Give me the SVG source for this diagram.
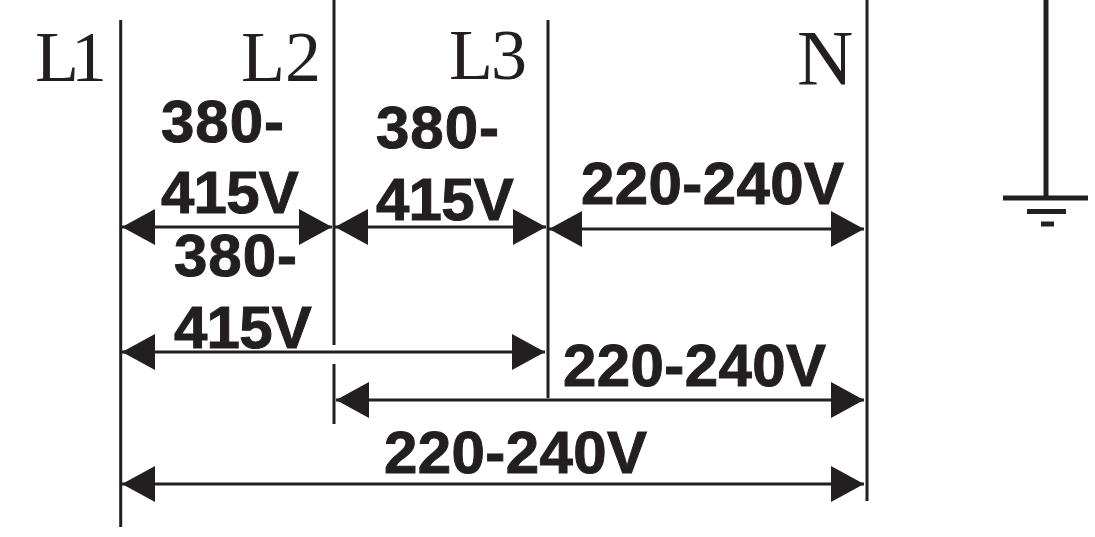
<svg xmlns="http://www.w3.org/2000/svg" width="1095" height="537" viewBox="0 0 1095 537">
<style>
.w{stroke:#231f20;stroke-width:3;fill:none}
.g{stroke:#231f20;fill:none;stroke-width:5}
.d{stroke:#231f20;stroke-width:3;fill:none;marker-start:url(#a);marker-end:url(#a)}
.p{font-family:"Liberation Serif",serif;font-size:72px;fill:#231f20}
.n{font-size:78px}
.v{font-family:"Liberation Sans",sans-serif;font-weight:700;font-size:60px;letter-spacing:.4px;fill:#231f20;stroke:#231f20;stroke-width:1}
.s{letter-spacing:-.8px}
.t{letter-spacing:1px}
</style>
<defs><marker id="a" markerUnits="userSpaceOnUse" markerWidth="34" markerHeight="36" refX="33" refY="18" orient="auto-start-reverse"><path d="M0 0L33 18L0 36Z" fill="#231f20"/></marker></defs>
<rect width="1095" height="537" fill="#fff"/>
<g id="wires">
<path class="w" d="M120.700 20V527"/>
<path class="w" d="M334 0V345M334 364V424"/>
<path class="w" d="M548 20V398"/>
<path class="w" d="M867 0V501"/>
</g>
<g id="ground">
<path class="g" d="M1046 0V197"/>
<path class="g" d="M1003 198H1088"/>
<path class="g" d="M1027 211.500H1066"/>
<path class="g" d="M1041 224H1054"/>
</g>
<g id="connectors">
<path class="d" d="M122 227H332"/>
<path class="d" d="M335 227H546"/>
<path class="d" d="M549 229H864"/>
<path class="d" d="M122 352H545"/>
<path class="d" d="M336 400H864"/>
<path class="d" d="M122 484H864"/>
</g>
<g id="labels">
<text class="p" x="35" y="81" textLength="72">L1</text>
<text class="p" x="241" y="81">L2</text>
<text class="p" x="449" y="79" textLength="78">L3</text>
<text class="p n" x="797" y="84">N</text>
<text class="v t" x="161" y="142">380-</text>
<text class="v s" x="161" y="213">415V</text>
<text class="v t" x="376" y="148">380-</text>
<text class="v s" x="376" y="220">415V</text>
<text class="v t" x="174" y="276">380-</text>
<text class="v s" x="174" y="348">415V</text>
<text class="v" x="581" y="204">220-240V</text>
<text class="v" x="563" y="386">220-240V</text>
<text class="v" x="384" y="473">220-240V</text>
</g>
</svg>
